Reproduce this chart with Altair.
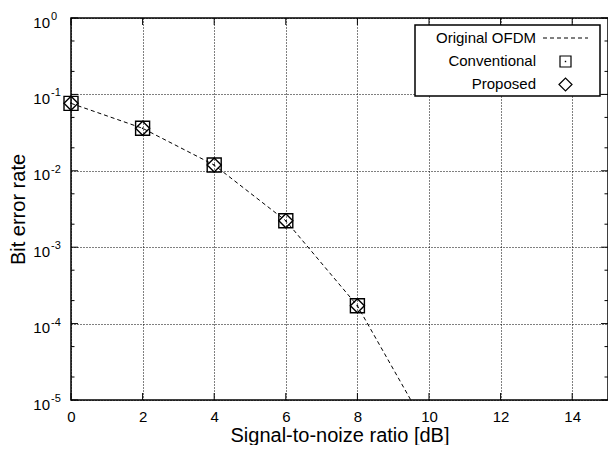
import altair as alt
import pandas as pd

# ---- data ----
snr_orig = [0, 2, 4, 6, 8, 10]
ber_orig = [0.0764, 0.036, 0.0119, 0.00222, 0.000171, 3.8e-6]
snr_conv = [0, 2, 4, 6, 8]
ber_conv = [0.0764, 0.036, 0.0119, 0.00222, 0.000171]
snr_prop = [0, 2, 4, 6, 8]
ber_prop = [0.0764, 0.036, 0.0119, 0.00222, 0.000171]

x_ticks = [0, 2, 4, 6, 8, 10, 12, 14]
y_ticks = [1, 1e-1, 1e-2, 1e-3, 1e-4, 1e-5]
y_exps = ["0", "-1", "-2", "-3", "-4", "-5"]
y_minor = [m * 10.0 ** e for e in range(-5, 0) for m in (2, 5)]
series_names = ["Original OFDM", "Conventional", "Proposed"]

W, H = 537, 382
FONT = "Liberation Sans"

xs = alt.Scale(domain=[0, 15], nice=False, zero=False)
ys = alt.Scale(type="log", domain=[1e-5, 1], nice=False)

df_orig = pd.DataFrame({"snr": snr_orig, "ber": ber_orig})
df_conv = pd.DataFrame({"snr": snr_conv, "ber": ber_conv})
df_prop = pd.DataFrame({"snr": snr_prop, "ber": ber_prop})
df_xt = pd.DataFrame({"snr": x_ticks})
df_yt = pd.DataFrame({"ber": y_ticks, "e": y_exps})
df_ym = pd.DataFrame({"ber": y_minor})

x_axis = alt.Axis(
    values=x_ticks, grid=True, labels=True, ticks=False, domain=False,
    labelFontSize=15, labelFont=FONT, labelColor="black",
    labelBaseline="alphabetic", labelPadding=21,
    labelFlush=False, labelOverlap=False,
    title="Signal-to-noize ratio [dB]", titleFontSize=20, titleFont=FONT,
    titleFontWeight="normal", titleColor="black",
    titleY=41, titleBaseline="alphabetic",
    gridColor="black", gridDash=[1, 2], gridWidth=1, gridOpacity=1)
y_axis = alt.Axis(
    values=y_ticks, grid=True, labels=False, ticks=False, domain=False,
    title="Bit error rate", titleFontSize=20, titleFont=FONT,
    titleFontWeight="normal", titleColor="black",
    titleX=-46.5, titleY=H / 2, titleAngle=270, titleBaseline="alphabetic",
    titleAlign="center",
    gridColor="black", gridDash=[1, 2], gridWidth=1, gridOpacity=1)

X = lambda: alt.X("snr:Q", scale=xs, axis=x_axis)
Y = lambda: alt.Y("ber:Q", scale=ys, axis=y_axis)

base_axes = alt.Chart(df_orig).mark_point(opacity=0).encode(x=X(), y=Y())

# y tick labels with exponent
ylab_base = alt.Chart(df_yt).mark_text(
    text="10", align="right", baseline="alphabetic", fontSize=15, font=FONT,
    color="black", dy=9.5
).encode(x=alt.value(-21), y=Y())
ylab_exp = alt.Chart(df_yt).mark_text(
    align="left", baseline="alphabetic", fontSize=11, font=FONT, color="black", dy=2
).encode(x=alt.value(-20), y=Y(), text="e:N")

# inward ticks
tick_style = dict(color="black", strokeWidth=1)
xt_bottom = alt.Chart(df_xt).mark_rule(**tick_style).encode(
    x=X(), y=alt.value(H), y2=alt.value(H - 7))
xt_top = alt.Chart(df_xt).mark_rule(**tick_style).encode(
    x=X(), y=alt.value(0), y2=alt.value(7))
yt_left = alt.Chart(df_yt).mark_rule(**tick_style).encode(
    y=Y(), x=alt.value(0), x2=alt.value(7))
yt_right = alt.Chart(df_yt).mark_rule(**tick_style).encode(
    y=Y(), x=alt.value(W), x2=alt.value(W - 7))
ym_left = alt.Chart(df_ym).mark_rule(**tick_style).encode(
    y=Y(), x=alt.value(0), x2=alt.value(3.5))
ym_right = alt.Chart(df_ym).mark_rule(**tick_style).encode(
    y=Y(), x=alt.value(W), x2=alt.value(W - 3.5))

# data
line = alt.Chart(df_orig).mark_line(
    color="black", strokeWidth=1, strokeDash=[4, 3], clip=True
).encode(x=X(), y=Y())
sq = alt.Chart(df_conv).mark_point(
    shape="square", size=196, filled=False, color="black", strokeWidth=1.4, opacity=1
).encode(x=X(), y=Y())
sq_dot = alt.Chart(df_conv).mark_point(
    shape="square", size=2, filled=True, color="black", opacity=1
).encode(x=X(), y=Y())
dm = alt.Chart(df_prop).mark_point(
    shape="diamond", size=196, filled=False, color="black", strokeWidth=1.4, opacity=1
).encode(x=X(), y=Y())

# legend (drawn manually: labels left, symbols right)
LX = W - 193  # legend box left, relative to plot
df_one = pd.DataFrame({"k": [0]})
leg_box = alt.Chart(df_one).mark_rect(
    fill="white", stroke="black", strokeWidth=1.5
).encode(x=alt.value(LX), x2=alt.value(LX + 185), y=alt.value(7), y2=alt.value(78))
leg_texts = [
    alt.Chart(df_one).mark_text(
        text=name, align="right", baseline="alphabetic", fontSize=15, font=FONT, color="black"
    ).encode(x=alt.value(LX + 121), y=alt.value(yy))
    for name, yy in zip(series_names, [24.7, 48, 71.3])
]
leg_line = alt.Chart(df_one).mark_rule(
    color="black", strokeWidth=1, strokeDash=[4, 3]
).encode(x=alt.value(LX + 128), x2=alt.value(LX + 173), y=alt.value(20))
leg_sq = alt.Chart(df_one).mark_point(
    shape="square", size=121, filled=False, color="black", strokeWidth=1.2, opacity=1
).encode(x=alt.value(LX + 150.5), y=alt.value(43.5))
leg_sq_dot = alt.Chart(df_one).mark_point(
    shape="square", size=2, filled=True, color="black", opacity=1
).encode(x=alt.value(LX + 150.5), y=alt.value(43.5))
leg_dm = alt.Chart(df_one).mark_point(
    shape="diamond", size=169, filled=False, color="black", strokeWidth=1.2, opacity=1
).encode(x=alt.value(LX + 150.5), y=alt.value(66.5))

chart = alt.layer(
    base_axes, ylab_base, ylab_exp,
    xt_bottom, xt_top, yt_left, yt_right, ym_left, ym_right,
    line, sq, sq_dot, dm,
    leg_box, *leg_texts, leg_line, leg_sq, leg_sq_dot, leg_dm,
).properties(
    width=W, height=H,
    autosize=alt.AutoSizeParams(type="none"),
    padding={"left": 63, "top": 10, "right": 0, "bottom": 45},
    background="white",
).configure_view(stroke="black", strokeWidth=1.5)

chart.save("out.html", embed_options={"renderer": "svg", "actions": False})
